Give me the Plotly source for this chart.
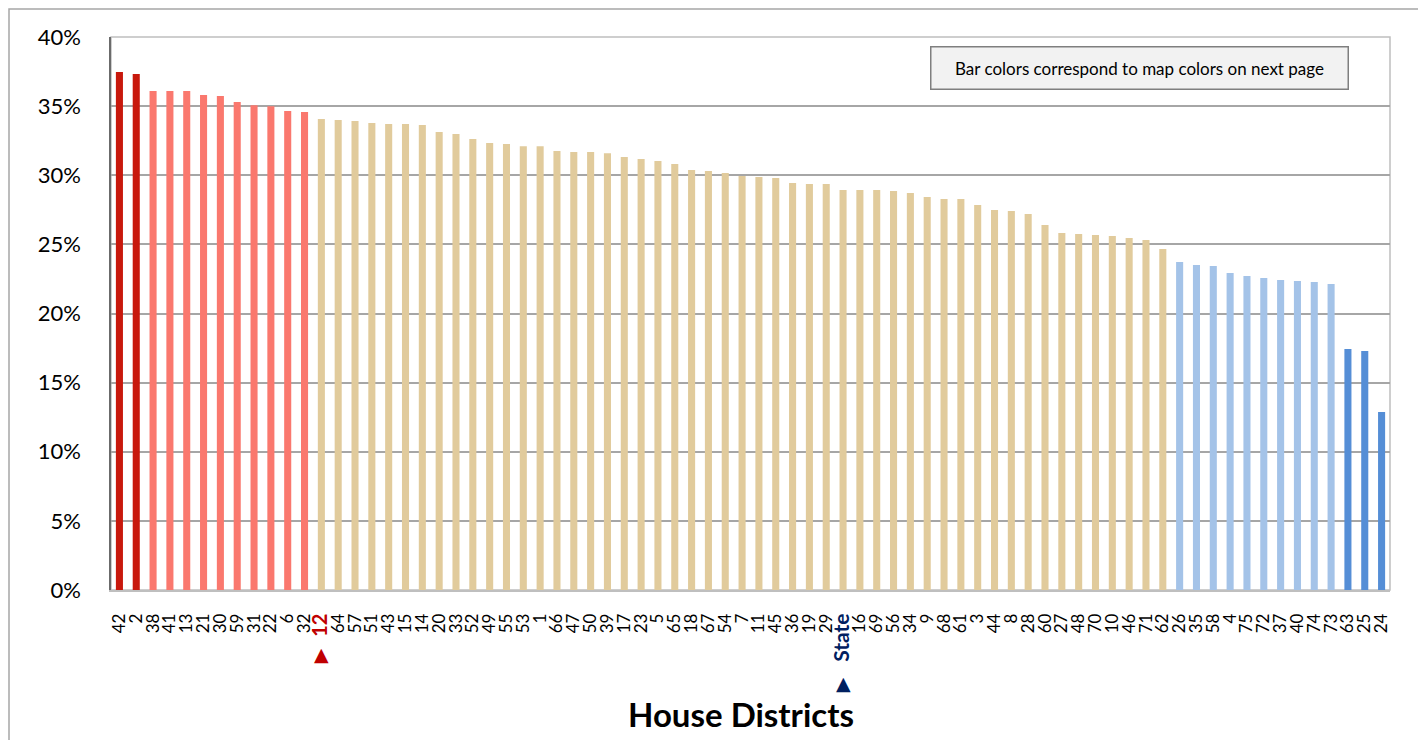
import plotly.graph_objects as go

districts = ["42", "2", "38", "41", "13", "21", "30", "59", "31", "22", "6", "32",
             "12", "64", "57", "51", "43", "15", "14", "20", "33", "52", "49", "55",
             "53", "1", "66", "47", "50", "39", "17", "23", "5", "65", "18", "67",
             "54", "7", "11", "45", "36", "19", "29", "State", "16", "69", "56", "34",
             "9", "68", "61", "3", "44", "8", "28", "60", "27", "48", "70", "10",
             "46", "71", "62", "26", "35", "58", "4", "75", "72", "37", "40", "74",
             "73", "63", "25", "24"]

values = [37.47, 37.32, 36.09, 36.09, 36.09, 35.80, 35.73, 35.30, 35.06, 35.00, 34.65, 34.57,
          34.07, 34.00, 33.92, 33.78, 33.71, 33.71, 33.64, 33.13, 32.98, 32.62, 32.33, 32.26,
          32.10, 32.10, 31.75, 31.68, 31.68, 31.60, 31.32, 31.18, 31.03, 30.81, 30.38, 30.30,
          30.16, 29.95, 29.87, 29.80, 29.44, 29.37, 29.37, 28.93, 28.93, 28.93, 28.86, 28.72,
          28.43, 28.28, 28.28, 27.85, 27.49, 27.41, 27.20, 26.40, 25.82, 25.75, 25.68, 25.60,
          25.46, 25.32, 24.67, 23.73, 23.50, 23.44, 22.93, 22.71, 22.57, 22.42, 22.35, 22.28,
          22.13, 17.43, 17.29, 12.88]

groups = (["highest"] * 2 + ["high"] * 10 + ["middle"] * 51 + ["low"] * 10 + ["lowest"] * 3)

y_ticks = [0, 5, 10, 15, 20, 25, 30, 35, 40]

group_colors = {"highest": "#C8180C", "high": "#FA786E", "middle": "#E1CB9C",
                "low": "#A4C3E8", "lowest": "#558ED6"}
bar_colors = [group_colors[g] for g in groups]

tick_text = []
for d in districts:
    if d == "12":
        tick_text.append("<b><span style='color:#C00000;font-size:20px'>12</span></b>")
    elif d == "State":
        tick_text.append("<b><span style='color:#002060;font-size:21px'>State</span></b>")
    else:
        tick_text.append(d)

FONT = "Lato, 'Open Sans', sans-serif"

# page body adds an 8px offset; figure is sized to fit the window
W, H = 1418, 732
L, T, R, B = 103, 29, 36, 150
PW, PH = W - L - R, H - T - B


def px_x(p):
    return (p - L) / PW


def px_y(p):
    return (H - B - p) / PH


fig = go.Figure()
fig.add_trace(go.Bar(x=districts, y=values, marker=dict(color=bar_colors, line=dict(width=0)),
                     hoverinfo="x+y"))

fig.update_layout(
    width=W, height=H,
    margin=dict(l=L, r=R, t=T, b=B, autoexpand=False),
    paper_bgcolor="white", plot_bgcolor="white",
    bargap=0.58, showlegend=False,
    font=dict(family=FONT, color="black"),
    xaxis=dict(type="category", tickmode="array", tickvals=districts, ticktext=tick_text,
               tickangle=-90, tickfont=dict(size=17, family=FONT, color="black"),
               showgrid=False, showline=True, linecolor="#bfbfbf", linewidth=1.5,
               ticks="", ticklabelstandoff=15, range=[-0.5, 75.5]),
    yaxis=dict(range=[0, 40], tickmode="array", tickvals=y_ticks,
               ticktext=[f"{v}%" for v in y_ticks],
               tickfont=dict(size=22, family=FONT, color="black"),
               showgrid=True, gridcolor="#a6a6a6", gridwidth=1.5,
               showline=True, linecolor="#6b6b6b", linewidth=1.5,
               ticks="", ticklabelstandoff=24, zeroline=False),
)

# plot-area border (top/right)
fig.add_shape(type="rect", xref="paper", yref="paper", x0=0, x1=1, y0=0, y1=1,
              line=dict(color="#bfbfbf", width=1.5), layer="below")
# outer chart border
fig.add_shape(type="rect", xref="paper", yref="paper", x0=px_x(1), x1=px_x(1411),
              y0=px_y(H + 40), y1=px_y(1), line=dict(color="#a6a6a6", width=1.5))

# markers under highlighted labels
fig.add_annotation(x="12", xref="x", y=px_y(646), yref="paper", text="▲", showarrow=False,
                   font=dict(size=19, color="#C00000", family="DejaVu Sans"),
                   xanchor="center", yanchor="middle")
fig.add_annotation(x="State", xref="x", y=px_y(675), yref="paper", text="▲", showarrow=False,
                   font=dict(size=19, color="#002060", family="DejaVu Sans"),
                   xanchor="center", yanchor="middle")

# axis title
fig.add_annotation(x=px_x(733), xref="paper", y=px_y(706), yref="paper",
                   text="<b>House Districts</b>", showarrow=False,
                   font=dict(size=33, family=FONT, color="black"),
                   xanchor="center", yanchor="middle")

# note box
fig.add_annotation(x=px_x(1131), xref="paper", y=px_y(60.5), yref="paper",
                   text="Bar colors correspond to map colors on next page", showarrow=False,
                   font=dict(size=17, family=FONT, color="black"),
                   bgcolor="#f2f2f2", bordercolor="#7f7f7f", borderwidth=1.5,
                   width=414, height=39, xanchor="center", yanchor="middle")

fig.write_html("out.html")
